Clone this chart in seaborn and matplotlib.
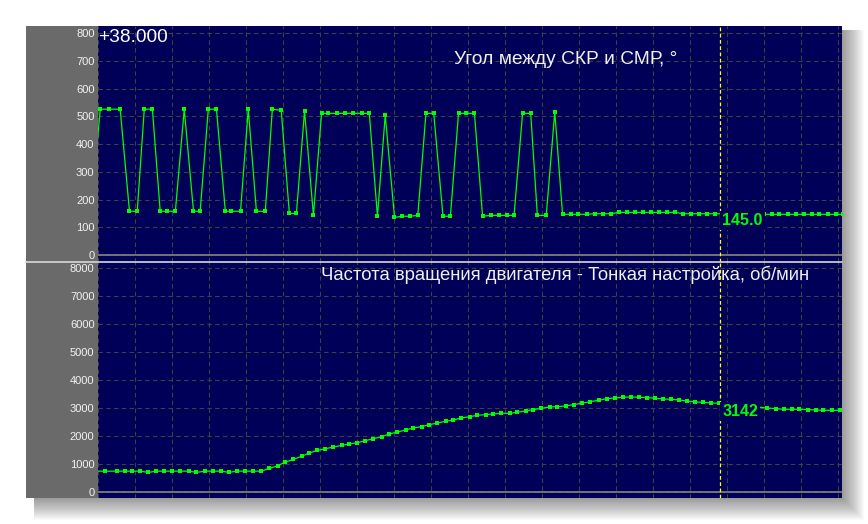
import matplotlib
matplotlib.use('Agg')
import matplotlib.pyplot as plt
from matplotlib.patches import Rectangle
from matplotlib.lines import Line2D
import pandas as pd
import seaborn as sns

# угол между СКР и СМР (время в делениях сетки)
angle_t = [-0.18, 0.06, 0.31, 0.60, 0.85, 1.06, 1.25, 1.47, 1.68, 1.87, 2.09, 2.33, 2.58, 2.76,
           2.98, 3.20, 3.44, 3.60, 3.85, 4.06, 4.28, 4.52, 4.71, 4.95, 5.17, 5.36, 5.58, 5.82,
           6.04, 6.22, 6.47, 6.68, 6.90, 7.13, 7.33, 7.55, 7.76, 8.01, 8.22, 8.42, 8.64, 8.86,
           9.07, 9.32, 9.52, 9.74, 9.95, 10.17, 10.39, 10.61, 10.83, 11.05, 11.24, 11.47, 11.69,
           11.87, 12.11, 12.34, 12.55, 12.78, 12.96, 13.21, 13.42, 13.64, 13.86, 14.07, 14.29,
           14.51, 14.72, 14.94, 15.15, 15.37, 15.59, 15.80, 16.02, 16.24, 16.45, 16.67,
           17.98, 18.20, 18.41, 18.63, 18.85, 19.06, 19.28, 19.49, 19.71, 19.93, 20.14]
angle_val = [158, 526, 526, 526, 158, 158, 526, 526, 158, 158, 158, 526, 158, 158,
             526, 526, 158, 158, 158, 526, 158, 158, 526, 522, 150, 150, 520, 143,
             511, 511, 511, 511, 511, 511, 511, 140, 505, 136, 140, 140, 143, 511,
             511, 140, 140, 511, 511, 511, 140, 143, 143, 143, 143, 511, 511,
             143, 143, 516, 147, 147, 147, 147, 149, 149, 149, 154, 154,
             154, 154, 154, 154, 154, 154, 149, 149, 149, 149, 149,
             147, 147, 147, 147, 147, 147, 147, 147, 147, 147, 147]

# частота вращения двигателя, об/мин
rpm_t = [-0.12, 0.18, 0.52, 0.74, 0.93, 1.14, 1.36, 1.58, 1.79, 2.01, 2.22, 2.47, 2.65, 2.90,
         3.12, 3.33, 3.53, 3.76, 3.98, 4.20, 4.41, 4.63, 4.85, 5.06, 5.28, 5.50, 5.71, 5.93,
         6.14, 6.36, 6.58, 6.79, 7.01, 7.22, 7.44, 7.66, 7.87, 8.09, 8.31, 8.52, 8.74, 8.95,
         9.17, 9.39, 9.60, 9.82, 10.04, 10.25, 10.47, 10.68, 10.90, 11.12, 11.33, 11.55, 11.76,
         11.98, 12.20, 12.41, 12.64, 12.85, 13.07, 13.30, 13.53, 13.75, 13.96, 14.18, 14.40,
         14.61, 14.83, 15.05, 15.26, 15.48, 15.69, 15.91, 16.13, 16.34, 16.56, 16.78,
         18.07, 18.31, 18.52, 18.74, 18.95, 19.17, 19.39, 19.60, 19.82, 20.04, 20.25]
rpm_val = [760, 760, 760, 760, 760, 760, 715, 760, 760, 760, 760, 760, 715, 760,
           760, 760, 715, 760, 760, 760, 760, 857, 952, 1083, 1179, 1290, 1410, 1500,
           1560, 1619, 1679, 1726, 1774, 1845, 1917, 1988, 2083, 2155, 2226, 2298, 2345, 2417,
           2476, 2536, 2583, 2655, 2702, 2750, 2774, 2798, 2821, 2821, 2857, 2905, 2952,
           3000, 3048, 3060, 3083, 3131, 3179, 3238, 3286, 3345, 3369, 3393, 3405,
           3393, 3381, 3357, 3333, 3321, 3298, 3262, 3226, 3214, 3190, 3179,
           3012, 2988, 2964, 2964, 2964, 2952, 2940, 2929, 2929, 2929, 2929]

cursor_t = 16.81
angle_cursor = 145.0
rpm_cursor = 3142
time_label = '+38.000'
angle_title = 'Угол между СКР и СМР, °'
rpm_title = 'Частота вращения двигателя - Тонкая настройка, об/мин'
angle_ticks = list(range(0, 801, 100))
rpm_ticks = list(range(0, 8001, 1000))
x_grid = list(range(0, 21))

navy = '#000058'
green = '#00ff00'

sns.set_style('dark')
plt.rcParams['font.family'] = ['Liberation Sans', 'DejaVu Sans']

W, H = 868, 524
fig = plt.figure(figsize=(W / 100, H / 100), dpi=100)
fig.patch.set_facecolor('white')

# рамка: x 26..842, y 26..497.7 (пиксели сверху)
fx0, fx1, fy0, fy1 = 26, 842, 26, 497.7
strip_x1 = 98
sep_y = 262

# мягкая тень справа и снизу
for e in range(1, 23):
    fig.add_artist(Rectangle(((fx0 + 8) / W, (H - fy1 - e) / H),
                             (fx1 - fx0 - 8 + e) / W, (fy1 - fy0 - 4 + e) / H,
                             transform=fig.transFigure, facecolor='black',
                             edgecolor='none', alpha=0.02, zorder=-2))
# серая полоса со шкалой
fig.add_artist(Rectangle((fx0 / W, (H - fy1) / H), (strip_x1 - fx0) / W, (fy1 - fy0) / H,
                         transform=fig.transFigure, facecolor='#6a6a6a',
                         edgecolor='none', zorder=-1))

ax1 = fig.add_axes([strip_x1 / W, (H - sep_y) / H, (fx1 - strip_x1) / W, (sep_y - fy0) / H])
ax2 = fig.add_axes([strip_x1 / W, (H - fy1) / H, (fx1 - strip_x1) / W, (fy1 - sep_y) / H])

df_angle = pd.DataFrame({'t': angle_t, 'v': angle_val})
df_rpm = pd.DataFrame({'t': rpm_t, 'v': rpm_val})

for ax, df, ticks, ylim in [(ax1, df_angle, angle_ticks, (-25, 826)),
                            (ax2, df_rpm, rpm_ticks, (-186, 8214))]:
    ax.set_facecolor(navy)
    ax.set_xlim(0, 20.1)
    ax.set_ylim(*ylim)
    ax.set_xticks(x_grid)
    ax.set_yticks(ticks)
    ax.grid(True, linestyle=(0, (4, 3)), color='#404040', linewidth=0.8)
    ax.axhline(0, color='#7a7a7a', linewidth=1.3, zorder=2)
    ax.tick_params(axis='x', labelbottom=False, length=0)
    ax.tick_params(axis='y', length=0, pad=2.5, labelsize=8, labelcolor='#f2f2f2')
    for s in ax.spines.values():
        s.set_visible(False)
    sns.lineplot(data=df, x='t', y='v', ax=ax, color=green, linewidth=0.9,
                 marker='s', markersize=2.8, markeredgewidth=0, estimator=None, sort=False,
                 zorder=3)
    ax.set_xlabel('')
    ax.set_ylabel('')
    ax.axvline(cursor_t, color='#ffff00', linewidth=0.9, linestyle=(0, (3, 2)), zorder=4)

ax1.text(0.0, 0.953, time_label, transform=ax1.transAxes, color='white',
         fontsize=13.8, ha='left', va='center')
ax1.text(0.628, 0.86, angle_title, transform=ax1.transAxes, color='#f0f0f0',
         fontsize=13.8, ha='center', va='center')
ax2.text(0.628, 0.945, rpm_title, transform=ax2.transAxes, color='#f0f0f0',
         fontsize=13.3, ha='center', va='center')

bbox = dict(facecolor=navy, edgecolor='none', pad=1.5)
ax1.annotate(f'{angle_cursor:.1f}', xy=(cursor_t, angle_cursor), xytext=(2, -6),
             textcoords='offset pixels', color=green, fontsize=11.5, fontweight='bold',
             ha='left', va='center', bbox=bbox, zorder=5)
ax2.annotate(f'{rpm_cursor}', xy=(cursor_t, rpm_cursor), xytext=(2, -7),
             textcoords='offset pixels', color=green, fontsize=11.5, fontweight='bold',
             ha='left', va='center', bbox=bbox, zorder=5)

# разделитель панелей
fig.add_artist(Line2D([fx0 / W, fx1 / W], [(H - sep_y) / H] * 2, transform=fig.transFigure,
                      color='#d8d8d8', linewidth=1.2, zorder=5))

fig.savefig('out.png', dpi=100, facecolor=fig.get_facecolor())
